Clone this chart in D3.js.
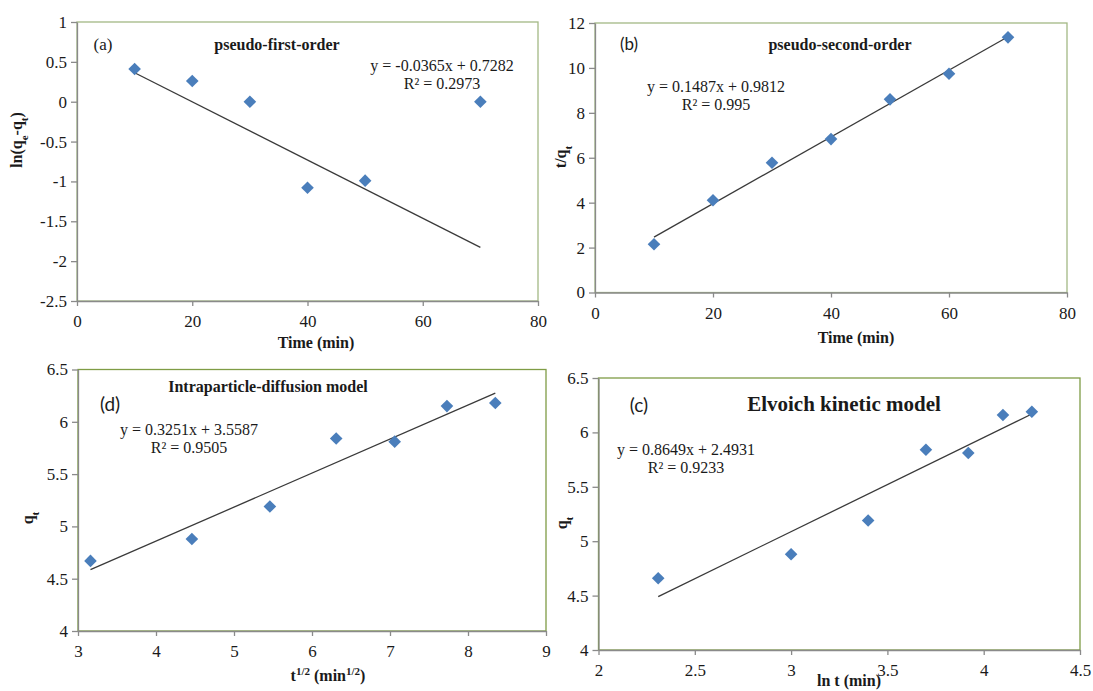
<!DOCTYPE html>
<html><head><meta charset="utf-8">
<script src="https://cdn.jsdelivr.net/npm/d3@7"></script>
<style>
html,body{margin:0;padding:0;background:#fff;}
svg{display:block;}
</style></head>
<body>
<svg id="chart" width="1093" height="691"></svg>
<script>
// ---------- data ----------
// (a) pseudo-first-order
const pfoTime = [10, 20, 30, 40, 50, 70];
const pfoLn   = [0.41, 0.26, 0.0, -1.08, -0.99, 0.0];
const pfoFit  = [-0.0365, 0.7282];   // slope, intercept
const pfoXTicks = [0, 20, 40, 60, 80];
const pfoYTicks = [1, 0.5, 0, -0.5, -1, -1.5, -2, -2.5];

// (b) pseudo-second-order
const psoTime = [10, 20, 30, 40, 50, 60, 70];
const psoTq   = [2.15, 4.11, 5.78, 6.83, 8.60, 9.74, 11.36];
const psoFit  = [0.1487, 0.9812];
const psoXTicks = [0, 20, 40, 60, 80];
const psoYTicks = [0, 2, 4, 6, 8, 10, 12];

// (d) intraparticle diffusion
const ipdSqrtT = [3.16, 4.46, 5.46, 6.31, 7.06, 7.73, 8.35];
const ipdQt    = [4.67, 4.88, 5.19, 5.84, 5.81, 6.15, 6.18];
const ipdFit   = [0.3251, 3.5587];
const ipdXTicks = [3, 4, 5, 6, 7, 8, 9];
const ipdYTicks = [4, 4.5, 5, 5.5, 6, 6.5];

// (c) Elovich
const elvLnT = [2.31, 3.00, 3.40, 3.70, 3.92, 4.10, 4.25];
const elvQt  = [4.66, 4.88, 5.19, 5.84, 5.81, 6.16, 6.19];
const elvFit = [0.8649, 2.4931];
const elvXTicks = [2, 2.5, 3, 3.5, 4, 4.5];
const elvYTicks = [4, 4.5, 5, 5.5, 6, 6.5];

// ---------- drawing ----------
const svg = d3.select("#chart");
const SERIF = "'Liberation Serif','Times New Roman',serif";
const SANS = "Lato,'Liberation Sans',sans-serif";
const AXIS = "#8a8a8a";
const MARK = "#4a7ebb";
const TXT = "#1a1a1a";

function panel(c) {
  const g = svg.append("g");
  const x = d3.scaleLinear().domain([c.xTicks[0], c.xTicks[c.xTicks.length-1]]).range([c.box[0], c.box[1]]);
  const y = d3.scaleLinear().domain([d3.min(c.yTicks), d3.max(c.yTicks)]).range([c.box[3], c.box[2]]);

  g.append("rect")
    .attr("x", c.box[0]).attr("y", c.box[2])
    .attr("width", c.box[1]-c.box[0]).attr("height", c.box[3]-c.box[2])
    .attr("fill", "none").attr("stroke", c.border).attr("stroke-width", 1.3);

  const fmt = d => String(d);
  const xa = g.append("g").attr("transform", `translate(0,${c.box[3]})`)
    .call(d3.axisBottom(x).tickValues(c.xTicks).tickFormat(fmt).tickSize(5).tickSizeOuter(0).tickPadding(9));
  const ya = g.append("g").attr("transform", `translate(${c.box[0]},0)`)
    .call(d3.axisLeft(y).tickValues(c.yTicks).tickFormat(fmt).tickSize(6).tickSizeOuter(0).tickPadding(4));
  [xa, ya].forEach(a => {
    a.selectAll("path,line").attr("stroke", AXIS).attr("stroke-width", 1.3);
    a.selectAll("text").attr("fill", TXT).style("font-family", SERIF).style("font-size", "17px");
  });

  // trend line
  const x0 = d3.min(c.xs), x1 = d3.max(c.xs);
  g.append("path")
    .attr("d", d3.line()([[x(x0), y(c.fit[0]*x0 + c.fit[1])], [x(x1), y(c.fit[0]*x1 + c.fit[1])]]))
    .attr("stroke", "#3a3a3a").attr("stroke-width", 1.3).attr("fill", "none");

  // diamonds
  const r = 6.3;
  g.selectAll("path.pt").data(c.xs.map((v, i) => [v, c.ys[i]])).join("path")
    .attr("class", "pt")
    .attr("d", `M0,${-r}L${r},0L0,${r}L${-r},0Z`)
    .attr("transform", d => `translate(${x(d[0])},${y(d[1])})`)
    .attr("fill", MARK);

  // texts
  const t = (px, py, str, opt = {}) => g.append("text")
    .attr("x", px).attr("y", py).attr("text-anchor", opt.anchor || "middle")
    .attr("fill", TXT).style("font-family", opt.font || SERIF)
    .style("font-size", (opt.size || 16) + "px").style("font-weight", opt.bold ? "bold" : "normal")
    .text(str);
  t(c.tag[0], c.tag[1], c.tag[2], {font: c.tagFont, size: c.tagSize});
  t(c.title[0], c.title[1], c.title[2], {bold: true, size: c.titleSize || 16});
  const sgn = c.fit[1] >= 0 ? "+" : "-";
  t(c.eq[0], c.eq[1], `y = ${c.fit[0]}x ${sgn} ${Math.abs(c.fit[1])}`);
  t(c.eq[0], c.eq[1] + 18, `R² = ${c.r2}`);

  // axis titles
  const xt = g.append("text").attr("x", c.xTitle[0]).attr("y", c.xTitle[1]).attr("text-anchor", "middle")
    .attr("fill", TXT).style("font-family", SERIF).style("font-size", "16px").style("font-weight", "bold");
  c.xTitle[2].forEach(p => {
    const s = xt.append("tspan").text(p[0]);
    if (p[1] === "sup") s.attr("baseline-shift", "super").style("font-size", "11px");
    if (p[1] === "sub") s.attr("baseline-shift", "sub").style("font-size", "11px");
  });
  const yt = g.append("text").attr("transform", `translate(${c.yTitle[0]},${c.yTitle[1]}) rotate(-90)`)
    .attr("text-anchor", "middle")
    .attr("fill", TXT).style("font-family", SERIF).style("font-size", "16px").style("font-weight", "bold");
  c.yTitle[2].forEach(p => {
    const s = yt.append("tspan").text(p[0]);
    if (p[1] === "sub") s.attr("baseline-shift", "sub").style("font-size", "11px");
  });
}

panel({
  box: [77, 538, 22, 301], border: "#a3b885",
  xTicks: pfoXTicks, yTicks: pfoYTicks, xs: pfoTime, ys: pfoLn, fit: pfoFit, r2: "0.2973",
  tag: [103, 50, "(a)"], tagFont: SERIF, tagSize: 17,
  title: [277, 50, "pseudo-first-order"],
  eq: [442, 71],
  xTitle: [316, 348, [["Time (min)"]]],
  yTitle: [22, 140, [["ln(q"], ["e", "sub"], ["-q"], ["t", "sub"], [")"]]]
});

panel({
  box: [595, 1067, 23, 292.5], border: "#a3b885",
  xTicks: psoXTicks, yTicks: psoYTicks, xs: psoTime, ys: psoTq, fit: psoFit, r2: "0.995",
  tag: [629, 50, "(b)"], tagFont: SANS, tagSize: 17,
  title: [840, 50, "pseudo-second-order"],
  eq: [716, 92],
  xTitle: [856, 343, [["Time (min)"]]],
  yTitle: [566, 157, [["t/q"], ["t", "sub"]]]
});

panel({
  box: [78, 546, 369.5, 631], border: "#7f9c45",
  xTicks: ipdXTicks, yTicks: ipdYTicks, xs: ipdSqrtT, ys: ipdQt, fit: ipdFit, r2: "0.9505",
  tag: [110, 411, "(d)"], tagFont: SANS, tagSize: 19,
  title: [268, 392, "Intraparticle-diffusion model"],
  eq: [189, 435],
  xTitle: [328, 681, [["t"], ["1/2", "sup"], [" (min"], ["1/2", "sup"], [")"]]],
  yTitle: [33, 518, [["q"], ["t", "sub"]]]
});

panel({
  box: [598.5, 1080, 378, 650], border: "#7f9c45",
  xTicks: elvXTicks, yTicks: elvYTicks, xs: elvLnT, ys: elvQt, fit: elvFit, r2: "0.9233",
  tag: [639, 412, "(c)"], tagFont: SANS, tagSize: 19,
  title: [844, 411, "Elvoich kinetic model"], titleSize: 21,
  eq: [686, 455],
  xTitle: [849, 686, [["ln t (min)"]]],
  yTitle: [567, 523, [["q"], ["t", "sub"]]]
});
</script>
</body></html>
